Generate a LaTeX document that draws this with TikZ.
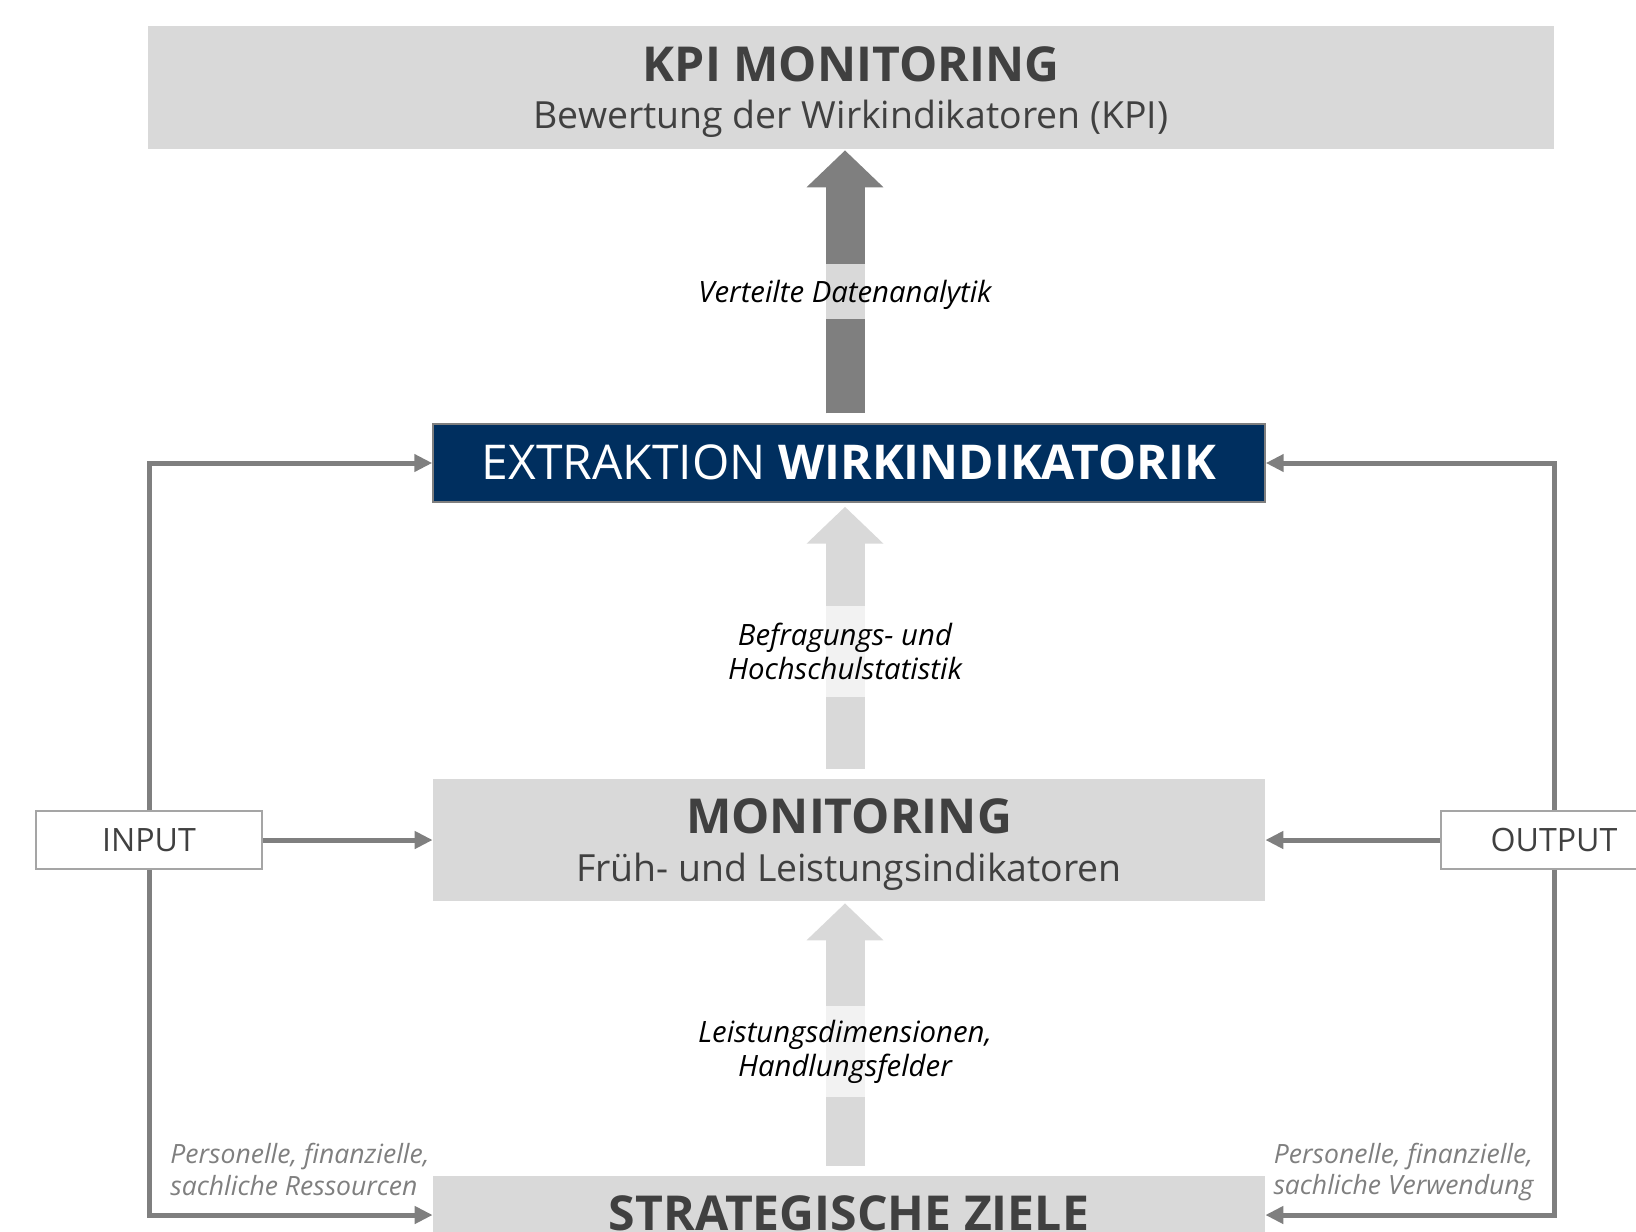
\documentclass[tikz,border=0pt]{standalone}
\usepackage{fontspec}
\setmainfont{Open Sans}
\usetikzlibrary{arrows.meta,calc}
\newlength\pxl
\setlength\pxl{0.02cm}
\definecolor{boxgrey}{HTML}{D9D9D9}
\definecolor{patchlight}{HTML}{F2F2F2}
\definecolor{arrgrey}{HTML}{7F7F7F}
\definecolor{txtdark}{HTML}{404040}
\definecolor{navy}{HTML}{002F5F}
\newcommand\titlefont{\fontsize{27.4}{30}\selectfont\bfseries}
\newcommand\subfont{\fontsize{21.3}{24}\selectfont}
\newcommand\tagfont{\fontsize{18.3}{22}\selectfont}
\newcommand\arrfont{\fontsize{16.7}{19.3}\selectfont\itshape}
\newcommand\sidefont{\fontsize{15.1}{17.9}\selectfont\itshape}
\tikzset{
	greybox/.style={fill=boxgrey, inner sep=0pt, minimum width=832\pxl},
	tagbox/.style={draw=arrgrey!70, line width=1.5\pxl, fill=white, minimum width=226\pxl, minimum height=58\pxl, inner sep=0pt, font=\tagfont, text=txtdark},
	bigarrow/.style={draw=#1, line width=39\pxl, -{Triangle[length=21pt, width=42.5pt]}},
	patchbox/.style={fill=#1, inner sep=0pt, minimum width=39\pxl},
	looparrow/.style={draw=arrgrey, line width=5\pxl, -{Triangle[length=10.2pt, width=9.6pt]}},
	arrlabel/.style={font=\arrfont, align=center, text=black, inner sep=0pt},
	sidelabel/.style={font=\sidefont, text=arrgrey, inner sep=0pt},
	headtext/.style={anchor=base, inner sep=0pt, text=txtdark},
}
\begin{document}
\begin{tikzpicture}[x=0.02cm, y=-0.02cm]
	\useasboundingbox (0,0) rectangle (1636,1231);
	% 1. Kaesten der vier Ebenen
	\node[greybox, minimum width=1406\pxl, minimum height=123\pxl] (kpi) at (851,87.5) {};
	\node[greybox, fill=navy, draw=arrgrey, line width=1.5\pxl, minimum height=78\pxl] (extr) at (849,463) {};
	\node[greybox, minimum height=122\pxl] (moni) at (849,840) {};
	\node[greybox, minimum height=78\pxl] (ziele) at (849,1215) {};
	
	% 2. Beschriftung der Kaesten
	\node[headtext, font=\titlefont] (kpititle) at (851,81) {KPI MONITORING};
	\node[headtext, font=\subfont] (kpisub) at (851,128) {Bewertung der Wirkindikatoren (KPI)};
	\node[headtext, text=white, font=\fontsize{27.3}{30}\selectfont] (extrtitle) at (849,479) {EXTRAKTION \textbf{WIRKINDIKATORIK}};
	\node[headtext, font=\titlefont] (monititle) at (849,833) {MONITORING};
	\node[headtext, font=\subfont] (monisub) at (849,881) {Früh- und Leistungsindikatoren};
	\node[headtext, font=\titlefont] (zieletitle) at (849,1230) {STRATEGISCHE ZIELE};
	
	% 3. Breite Pfeile zwischen den Ebenen
	\draw[bigarrow=arrgrey] ($(extr.north)+(-4,-10)$) -- ($(kpi.south)+(-6,1)$);
	\draw[bigarrow=boxgrey] ($(moni.north)+(-4,-10)$) -- ($(extr.south)+(-4,4)$);
	\draw[bigarrow=boxgrey] ($(ziele.north)+(-4,-10)$) -- ($(moni.south)+(-4,2)$);
	\node[patchbox=boxgrey, minimum height=55\pxl] (vpatch) at (845,291.5) {};
	\node[patchbox=patchlight, minimum height=91\pxl] (bpatch) at (845,651.5) {};
	\node[patchbox=patchlight, minimum height=91\pxl] (lpatch) at (845,1051.5) {};
	\node[arrlabel, anchor=base] (vlabel) at (845,302) {Verteilte Datenanalytik};
	\node[arrlabel] (blabel) at (bpatch) {Befragungs- und\\Hochschulstatistik};
	\node[arrlabel] (llabel) at (lpatch) {Leistungsdimensionen,\\Handlungsfelder};
	
	% 4. Input- und Output-Schleifen
	\node[tagbox] (input) at (149,840) {INPUT};
	\node[tagbox] (output) at (1554,840) {OUTPUT};
	\draw[looparrow] (input.north) |- (extr.west);
	\draw[looparrow] (input.east) -- (moni.west);
	\draw[looparrow] (input.south) |- (ziele.west);
	\draw[looparrow] (output.north) |- (extr.east);
	\draw[looparrow] (output.west) -- (moni.east);
	\draw[looparrow] (output.south) |- (ziele.east);
	\node[sidelabel, align=left] (inlabel) at (300,1169.5) {Personelle, finanzielle,\\sachliche Ressourcen};
	\node[sidelabel, align=center] (outlabel) at (1403.5,1172) {Personelle, finanzielle,\\sachliche Verwendung};
\end{tikzpicture}
\end{document}
